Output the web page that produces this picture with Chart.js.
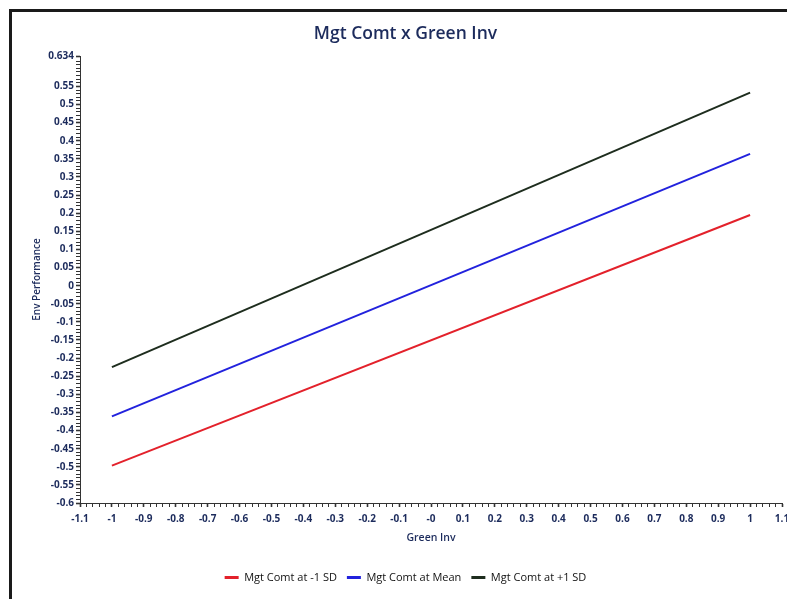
<!DOCTYPE html>
<html>
<head>
<meta charset="utf-8">
<script src="https://cdn.jsdelivr.net/npm/chart.js@4/dist/chart.umd.min.js"></script>
<style>
  html, body { margin: 0; padding: 0; background: #fff; overflow: hidden; }
  #wrap { position: absolute; left: 0; top: 0; width: 787px; height: 599px; }
  #frame { position: absolute; left: 9px; top: 9px; width: 800px; height: 600px;
           border-top: 3px solid #1a1a1a; border-left: 3px solid #1a1a1a; pointer-events: none; }
</style>
</head>
<body>
<div id="wrap"><canvas id="c" width="787" height="599"></canvas></div>
<div id="frame"></div>
<script>
// ---- data ----
const chartTitle = 'Mgt Comt x Green Inv';
const xAxisTitle = 'Green Inv';
const yAxisTitle = 'Env Performance';
const seriesNames = ['Mgt Comt at -1 SD', 'Mgt Comt at Mean', 'Mgt Comt at +1 SD'];
const greenInv = [-1, 1];
const lowSD  = [-0.497, 0.195];
const meanSD = [-0.361, 0.364];
const highSD = [-0.225, 0.533];
const xTickValues = [-1.1,-1,-0.9,-0.8,-0.7,-0.6,-0.5,-0.4,-0.3,-0.2,-0.1,0,0.1,0.2,0.3,0.4,0.5,0.6,0.7,0.8,0.9,1,1.1];
const xTickLabels = ['-1.1','-1','-0.9','-0.8','-0.7','-0.6','-0.5','-0.4','-0.3','-0.2','-0.1','-0','0.1','0.2','0.3','0.4','0.5','0.6','0.7','0.8','0.9','1','1.1'];
const yTickValues = [0.634,0.55,0.5,0.45,0.4,0.35,0.3,0.25,0.2,0.15,0.1,0.05,0,-0.05,-0.1,-0.15,-0.2,-0.25,-0.3,-0.35,-0.4,-0.45,-0.5,-0.55,-0.6];
const yTickLabels = ['0.634','0.55','0.5','0.45','0.4','0.35','0.3','0.25','0.2','0.15','0.1','0.05','0','-0.05','-0.1','-0.15','-0.2','-0.25','-0.3','-0.35','-0.4','-0.45','-0.5','-0.55','-0.6'];
const seriesColors = ['#e3212b', '#2222dd', '#1e2d1e'];

const seriesValues = [lowSD, meanSD, highSD];
function labelFor(values, labels, v) {
  for (let i = 0; i < values.length; i++) if (Math.abs(values[i] - v) < 1e-6) return labels[i];
  return null;
}
const tickFont = { family: "'Open Sans', sans-serif", size: 10, weight: 'bold' };
const navy = '#1c2b5c';

new Chart(document.getElementById('c'), {
  type: 'line',
  data: {
    datasets: seriesNames.map((name, i) => ({
      label: name,
      data: greenInv.map((x, j) => ({ x: x, y: seriesValues[i][j] })),
      borderColor: seriesColors[i],
      backgroundColor: seriesColors[i],
      borderWidth: 2,
      pointRadius: 0,
      tension: 0
    }))
  },
  options: {
    responsive: false,
    animation: false,
    layout: { padding: { left: 24, right: 0, top: 12, bottom: 6 } },
    plugins: {
      title: {
        display: true, text: chartTitle, color: navy,
        font: { family: "'Open Sans', sans-serif", size: 17.5, weight: '600' },
        padding: { top: 12, bottom: 11 }
      },
      legend: {
        position: 'bottom',
        labels: {
          color: '#111',
          font: { family: "'Open Sans', sans-serif", size: 11 },
          boxWidth: 14, boxHeight: 3, padding: 10,
          generateLabels(chart) {
            return Chart.defaults.plugins.legend.labels.generateLabels(chart).map(l => Object.assign(l, { lineWidth: 0 }));
          }
        }
      },
      tooltip: { enabled: false }
    },
    scales: {
      x: {
        type: 'linear', min: -1.1, max: 1.1,
        afterFit(s) { s.height = 59; s.paddingRight = 5; },
        border: { display: true, color: '#333', width: 1 },
        grid: {
          drawOnChartArea: false, drawTicks: true, tickLength: 4, tickColor: '#333',
          tickWidth: ctx => (ctx.tick && labelFor(xTickValues, xTickLabels, ctx.tick.value) !== null) ? 1.6 : 1
        },
        ticks: {
          stepSize: 0.02, autoSkip: false, maxRotation: 0, maxTicksLimit: 1000,
          color: navy, font: tickFont, padding: 6,
          callback: v => { const l = labelFor(xTickValues, xTickLabels, v); return l === null ? '' : l; }
        },
        title: { display: true, text: xAxisTitle, color: navy,
                 font: { family: "'Open Sans', sans-serif", size: 10.5, weight: '600' }, padding: { top: 2, bottom: 18 } }
      },
      y: {
        type: 'linear', min: -0.6, max: 0.634,
        afterFit(s) { s.width = 56; },
        border: { display: true, color: '#333', width: 1 },
        grid: {
          drawOnChartArea: false, drawTicks: true, tickLength: 4, tickColor: '#333',
          tickWidth: ctx => (ctx.tick && labelFor(yTickValues, yTickLabels, ctx.tick.value) !== null) ? 1.6 : 1
        },
        ticks: {
          stepSize: 0.01, autoSkip: false, maxTicksLimit: 1000,
          color: navy, font: tickFont, padding: 2,
          callback: v => { const l = labelFor(yTickValues, yTickLabels, v); return l === null ? '' : l; }
        },
        title: { display: true, text: yAxisTitle, color: navy,
                 font: { family: "'Open Sans', sans-serif", size: 10, weight: '600' }, padding: 7 }
      }
    }
  }
});
</script>
</body>
</html>
